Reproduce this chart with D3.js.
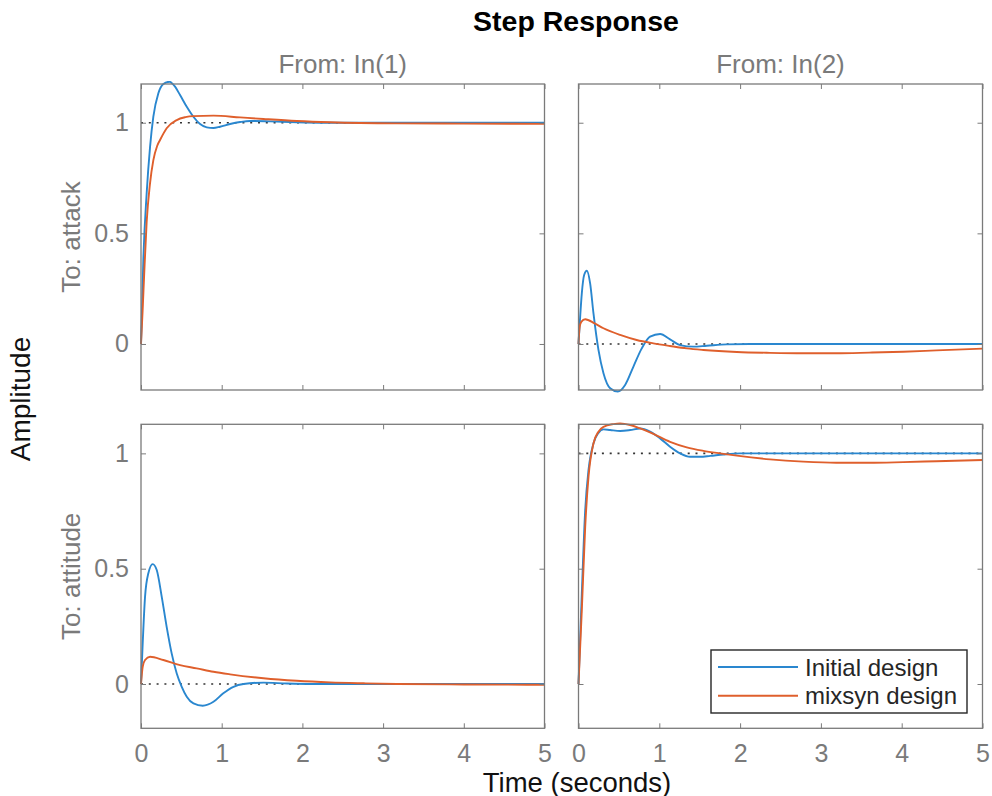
<!DOCTYPE html>
<html>
<head>
<meta charset="utf-8">
<script src="https://cdn.jsdelivr.net/npm/d3@7"></script>
<style>
  html, body { margin: 0; padding: 0; background: #fff; }
  svg { display: block; font-family: "Liberation Sans", Arial, Helvetica, sans-serif; }
</style>
</head>
<body>
<svg id="chart" width="992" height="796"></svg>
<script>
// ---------- data ----------
const title = "Step Response";
const inputNames = ["From: In(1)", "From: In(2)"];
const outputNames = ["To: attack", "To: attitude"];
const seriesNames = ["Initial design", "mixsyn design"];
const xTicks = [0, 1, 2, 3, 4, 5];
const yTicks = [0, 0.5, 1];
const steadyState = [[1, 0], [0, 1]]; // [row][col]

// attack <- In(1)
const attackIn1InitialT = [0, 0.01, 0.029, 0.07, 0.112, 0.153, 0.215, 0.277, 0.352, 0.422, 0.484, 0.567, 0.649, 0.732, 0.815, 0.898, 0.98, 1.104, 1.228, 1.352, 1.6, 1.93, 2.3, 3, 4, 5];
const attackIn1InitialY = [0, 0.12, 0.38, 0.68, 0.89, 1.027, 1.133, 1.175, 1.185, 1.163, 1.125, 1.072, 1.027, 0.994, 0.979, 0.976, 0.982, 0.994, 1.003, 1.008, 1.006, 1.002, 1.0, 1.0, 1.0, 1.0];
const attackIn1MixsynT = [0, 0.02, 0.04, 0.07, 0.11, 0.153, 0.2, 0.236, 0.318, 0.443, 0.55, 0.649, 0.898, 1.228, 1.518, 1.93, 2.345, 3.17, 4, 5];
const attackIn1MixsynY = [0, 0.15, 0.32, 0.55, 0.72, 0.831, 0.895, 0.922, 0.975, 1.012, 1.025, 1.03, 1.032, 1.024, 1.017, 1.008, 1.002, 0.997, 0.996, 0.995];

// attack <- In(2)
const attackIn2InitialT = [0, 0.02, 0.041, 0.07, 0.103, 0.144, 0.185, 0.247, 0.309, 0.392, 0.487, 0.577, 0.68, 0.783, 0.886, 1.01, 1.133, 1.257, 1.42, 1.587, 1.834, 2.12, 3, 4, 5];
const attackIn2InitialY = [0, 0.12, 0.229, 0.312, 0.331, 0.274, 0.139, -0.027, -0.132, -0.2, -0.215, -0.185, -0.102, -0.02, 0.033, 0.045, 0.021, -0.005, -0.012, -0.008, -0.002, 0, 0, 0, 0];
const attackIn2MixsynT = [0, 0.014, 0.034, 0.083, 0.2, 0.309, 0.515, 0.72, 0.927, 1.133, 1.34, 1.545, 1.96, 2.37, 2.78, 3.19, 3.6, 4.02, 4.43, 5];
const attackIn2MixsynY = [0, 0.078, 0.1, 0.112, 0.093, 0.071, 0.041, 0.018, 0.003, -0.009, -0.02, -0.027, -0.036, -0.04, -0.042, -0.042, -0.039, -0.035, -0.029, -0.021];

// attitude <- In(1)
const attitudeIn1InitialT = [0, 0.021, 0.05, 0.091, 0.145, 0.195, 0.257, 0.318, 0.38, 0.443, 0.505, 0.567, 0.65, 0.765, 0.898, 1.02, 1.146, 1.27, 1.518, 1.81, 2.14, 3, 4, 5];
const attitudeIn1InitialY = [0, 0.176, 0.378, 0.48, 0.52, 0.494, 0.378, 0.248, 0.133, 0.046, -0.012, -0.055, -0.084, -0.094, -0.077, -0.04, -0.012, 0, 0.006, 0.002, 0, 0, 0, 0];
const attitudeIn1MixsynT = [0, 0.021, 0.05, 0.112, 0.277, 0.484, 0.69, 0.898, 1.104, 1.518, 1.93, 2.345, 2.76, 3.17, 4, 5];
const attitudeIn1MixsynY = [0, 0.075, 0.104, 0.118, 0.104, 0.082, 0.068, 0.053, 0.042, 0.025, 0.014, 0.007, 0.003, 0, -0.002, -0.003];

// attitude <- In(2)
const attitudeIn2InitialT = [0, 0.041, 0.083, 0.124, 0.185, 0.247, 0.309, 0.392, 0.515, 0.639, 0.763, 0.886, 1.01, 1.133, 1.257, 1.38, 1.504, 1.63, 1.79, 2.0, 3, 4, 5];
const attitudeIn2InitialY = [0, 0.393, 0.754, 0.928, 1.043, 1.089, 1.104, 1.101, 1.097, 1.101, 1.108, 1.094, 1.065, 1.029, 1.0, 0.985, 0.985, 0.989, 0.995, 1.0, 1.0, 1.0, 1.0];
const attitudeIn2MixsynT = [0, 0.041, 0.083, 0.124, 0.185, 0.247, 0.309, 0.433, 0.515, 0.639, 0.763, 0.927, 1.133, 1.34, 1.545, 1.75, 1.96, 2.37, 2.78, 3.19, 3.6, 4.02, 4.43, 5];
const attitudeIn2MixsynY = [0, 0.321, 0.682, 0.899, 1.043, 1.094, 1.115, 1.127, 1.13, 1.123, 1.108, 1.084, 1.05, 1.026, 1.011, 1.0, 0.99, 0.974, 0.964, 0.959, 0.959, 0.962, 0.966, 0.971];

const xDomain = [0, 5];
const rowYDomains = [[-0.208, 1.175], [-0.192, 1.126]];

// ---------- layout / style ----------
const colors = ["#2a87cf", "#df5f2c"];
const gray = "#7a7a7a";
const colX = [[141, 544.5], [578.5, 982.5]];
const rowY = [[84, 390], [424.3, 728.3]];

const panels = [
  [ [[attackIn1InitialT, attackIn1InitialY], [attackIn1MixsynT, attackIn1MixsynY]],
    [[attackIn2InitialT, attackIn2InitialY], [attackIn2MixsynT, attackIn2MixsynY]] ],
  [ [[attitudeIn1InitialT, attitudeIn1InitialY], [attitudeIn1MixsynT, attitudeIn1MixsynY]],
    [[attitudeIn2InitialT, attitudeIn2InitialY], [attitudeIn2MixsynT, attitudeIn2MixsynY]] ]
];

const svg = d3.select("#chart");
const defs = svg.append("defs");

for (let r = 0; r < 2; r++) {
  for (let c = 0; c < 2; c++) {
    const x = d3.scaleLinear().domain(xDomain).range(colX[c]);
    const y = d3.scaleLinear().domain(rowYDomains[r]).range([rowY[r][1], rowY[r][0]]);
    const g = svg.append("g");
    const clipId = `clip-${r}-${c}`;
    defs.append("clipPath").attr("id", clipId).append("rect")
      .attr("x", colX[c][0] - 3).attr("y", rowY[r][0] - 3)
      .attr("width", colX[c][1] - colX[c][0] + 6).attr("height", rowY[r][1] - rowY[r][0] + 6);

    // steady-state dotted line
    g.append("line")
      .attr("x1", x(0)).attr("x2", x(5))
      .attr("y1", y(steadyState[r][c])).attr("y2", y(steadyState[r][c]))
      .attr("stroke", "#333").attr("stroke-width", 1.6)
      .attr("stroke-dasharray", "2,5.8");

    // curves
    const line = d3.line().x(d => x(d[0])).y(d => y(d[1])).curve(d3.curveMonotoneX);
    const lg = g.append("g").attr("clip-path", `url(#${clipId})`);
    panels[r][c].forEach((s, i) => {
      const pts = s[0].map((t, k) => [t, s[1][k]]);
      lg.append("path").datum(pts).attr("d", line)
        .attr("fill", "none").attr("stroke", colors[i]).attr("stroke-width", 1.9)
        .attr("stroke-linejoin", "round");
    });

    // axes (ticks inward on all sides)
    const styleAxis = sel => {
      sel.select(".domain").remove();
      sel.selectAll(".tick line").attr("stroke", gray).attr("stroke-width", 1);
      sel.selectAll(".tick text").attr("fill", gray).style("font-size", "25px")
        .style("font-family", '"Liberation Sans", Arial, sans-serif');
    };
    g.append("g").attr("transform", `translate(0,${rowY[r][1]})`)
      .call(d3.axisBottom(x).tickValues(xTicks).tickSizeInner(-5).tickSizeOuter(0).tickPadding(15.5)
        .tickFormat(r === 1 ? d3.format("d") : () => ""))
      .call(styleAxis);
    g.append("g").attr("transform", `translate(0,${rowY[r][0]})`)
      .call(d3.axisTop(x).tickValues(xTicks).tickSizeInner(-5).tickSizeOuter(0).tickFormat(() => ""))
      .call(styleAxis);
    g.append("g").attr("transform", `translate(${colX[c][0]},0)`)
      .call(d3.axisLeft(y).tickValues(yTicks).tickSizeInner(-5).tickSizeOuter(0).tickPadding(12)
        .tickFormat(c === 0 ? d => (d === 0.5 ? "0.5" : String(d)) : () => ""))
      .call(styleAxis);
    g.append("g").attr("transform", `translate(${colX[c][1]},0)`)
      .call(d3.axisRight(y).tickValues(yTicks).tickSizeInner(-5).tickSizeOuter(0).tickFormat(() => ""))
      .call(styleAxis);

    // box
    g.append("rect")
      .attr("x", colX[c][0]).attr("y", rowY[r][0])
      .attr("width", colX[c][1] - colX[c][0]).attr("height", rowY[r][1] - rowY[r][0])
      .attr("fill", "none").attr("stroke", gray).attr("stroke-width", 1.3);
  }
}

// column titles
inputNames.forEach((n, c) => {
  svg.append("text").attr("x", (colX[c][0] + colX[c][1]) / 2).attr("y", 73)
    .attr("text-anchor", "middle").attr("fill", gray).style("font-size", "26px").text(n);
});
// row labels
outputNames.forEach((n, r) => {
  const cy = (rowY[r][0] + rowY[r][1]) / 2;
  svg.append("text").attr("transform", `translate(80,${cy}) rotate(-90)`)
    .attr("text-anchor", "middle").attr("fill", gray).style("font-size", "26px").text(n);
});

// title and global labels
svg.append("text").attr("x", 576).attr("y", 31).attr("text-anchor", "middle")
  .attr("fill", "#000").style("font-size", "28.5px").style("font-weight", "bold").text(title);
svg.append("text").attr("x", 577).attr("y", 791.5).attr("text-anchor", "middle")
  .attr("fill", "#111").style("font-size", "27.5px").text("Time (seconds)");
svg.append("text").attr("transform", "translate(30,399) rotate(-90)").attr("text-anchor", "middle")
  .attr("fill", "#111").style("font-size", "28px").text("Amplitude");

// legend
const leg = svg.append("g");
leg.append("rect").attr("x", 711).attr("y", 650).attr("width", 256).attr("height", 63)
  .attr("fill", "#fff").attr("stroke", "#262626").attr("stroke-width", 1.4);
seriesNames.forEach((n, i) => {
  const ly = 667 + i * 28.7;
  leg.append("line").attr("x1", 718).attr("x2", 798).attr("y1", ly).attr("y2", ly)
    .attr("stroke", colors[i]).attr("stroke-width", 1.9);
  leg.append("text").attr("x", 805).attr("y", ly + 8.5).attr("fill", "#262626")
    .style("font-size", "24px").text(n);
});
</script>
</body>
</html>
